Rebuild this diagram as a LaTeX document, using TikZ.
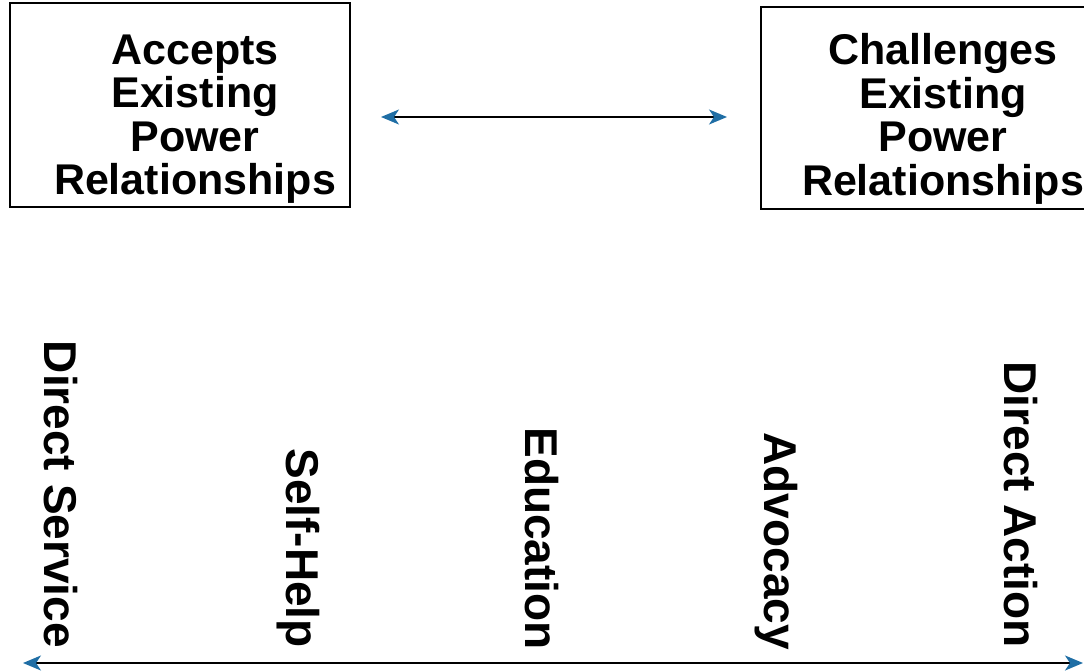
\documentclass[tikz,border=0pt]{standalone}
\usepackage{fontspec}
\setmainfont{Liberation Sans}
\usetikzlibrary{arrows.meta}
\definecolor{arrowblue}{RGB}{31,110,165}
\begin{document}
\begin{tikzpicture}[x=1pt,y=-1pt,
  box/.style={draw=black,line width=2pt,inner sep=0pt},
  boxtext/.style={font=\fontsize{43}{43.5}\selectfont\bfseries,align=center,inner sep=0pt},
  vlabel/.style={font=\fontsize{46}{50}\selectfont\bfseries,rotate=-90,anchor=base east,inner sep=0pt},
  tip/.style={Stealth[length=18pt,width=15pt,inset=5pt,color=arrowblue]},
  spectrum/.style={line width=2pt,{Stealth[length=18pt,width=15pt,inset=5pt,color=arrowblue]}-{Stealth[length=18pt,width=15pt,inset=5pt,color=arrowblue]}}
]
\useasboundingbox (0,0) rectangle (1084,671);

\node[box,minimum width=340pt,minimum height=204pt] (accepts) at (180,105) {};
\node[box,minimum width=340pt,minimum height=202pt] (challenges) at (931,108) {};
\node[boxtext] (acceptstext) at (195,119) {Accepts\\Existing\\Power\\Relationships};
\node[boxtext] (challengestext) at (943,119) {Challenges\\Existing\\Power\\Relationships};

\draw[spectrum,shorten <=30pt,shorten >=33pt] ([yshift=-12pt]accepts.east) -- ([yshift=-9pt]challenges.west);

\node[vlabel] (service) at (44,648) {Direct Service};
\node[vlabel] (selfhelp) at (286,648) {Self-Help};
\node[vlabel] (education) at (525,650) {Education};
\node[vlabel] (advocacy) at (764,650) {Advocacy};
\node[vlabel] (action) at (1004,648) {Direct Action};

\coordinate (leftend) at (23,663);
\coordinate (rightend) at (1083,663);
\draw[spectrum] (leftend) -- (rightend);
\end{tikzpicture}
\end{document}
